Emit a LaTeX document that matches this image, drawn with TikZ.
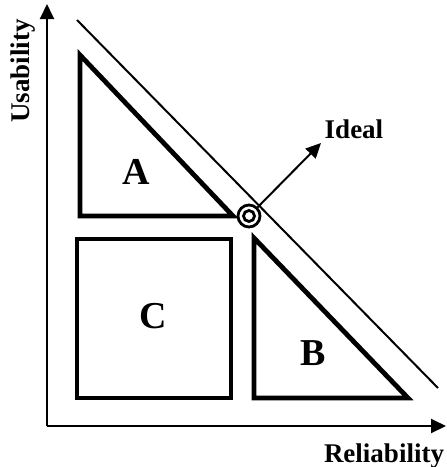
\documentclass[tikz,border=0pt]{standalone}
\usepackage{fontspec}
\setmainfont{Liberation Serif}
\usepackage{tikz}
\usetikzlibrary{arrows.meta,positioning}

\tikzset{
  zone/.style={line width=2.4pt, line join=miter},
  axis/.style={line width=1pt, -{Triangle[length=7.5pt,width=7pt]}},
  lbl/.style={font=\fontsize{13.5}{16}\selectfont\bfseries, inner sep=0pt},
  letter/.style={font=\fontsize{19}{22}\selectfont\bfseries, inner sep=0pt},
  ring/.style={circle, draw, line width=1.4pt, inner sep=0pt},
}

\begin{document}
\begin{tikzpicture}[x=0.5pt, y=-0.5pt]
  \useasboundingbox (0,0) rectangle (446,467);
  % axes
  \coordinate (origin) at (47,426);
  \coordinate (ytip) at (47,4);
  \coordinate (xtip) at (446,426);
  \draw[axis] (origin) -- (ytip);
  \draw[axis] (origin) -- (xtip);
  \node[lbl, rotate=90, anchor=base] (ylbl) at (29,71) {Usability};
  \node[lbl, anchor=base] (xlbl) at (384,462) {Reliability};

  % frontier
  \coordinate (fstart) at (77,20);
  \coordinate (fend) at (438,388);
  \draw[line width=1pt] (fstart) -- (fend);

  % regions
  \draw[zone] (80,55) -- (80,216) -- (233,216) -- cycle;
  \draw[zone] (77,239) rectangle (231,398);
  \draw[zone] (254,238) -- (254,398) -- (408,398) -- cycle;
  \node[letter] (regA) at (136,172) {A};
  \node[letter] (regC) at (153,316) {C};
  \node[letter] (regB) at (313,353) {B};

  % ideal point
  \node[ring, fill=white, minimum size=11pt] (ideal) at (249,216) {};
  \node[ring, minimum size=5.5pt] (idealin) at (ideal) {};
  \node[lbl] (ideallbl) at (354,129) {Ideal};
  \coordinate (idealtip) at (321,143);
  \draw[line width=1pt, -{Triangle[length=7.5pt,width=7pt]}] (ideal) -- (idealtip);
\end{tikzpicture}
\end{document}
